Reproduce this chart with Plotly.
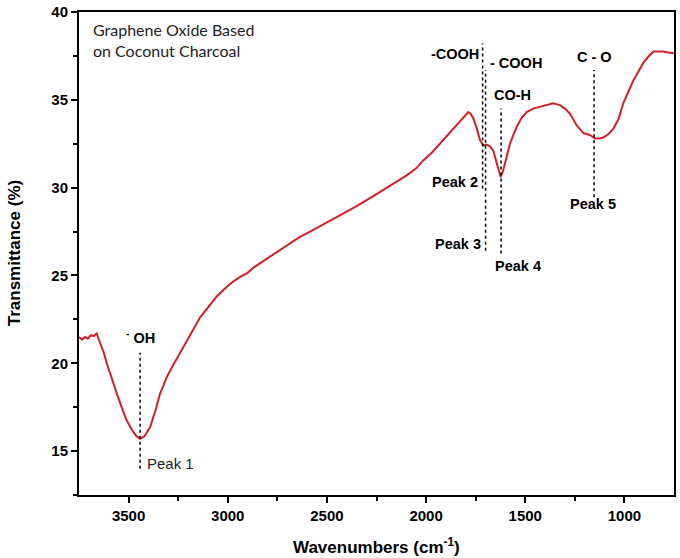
import plotly.graph_objects as go

wavenumber = [3750, 3735, 3720, 3705, 3690, 3675, 3661, 3644, 3625, 3610, 3585, 3560, 3535, 3510,
              3480, 3460, 3442, 3420, 3392, 3365, 3342, 3308, 3275, 3241, 3190, 3140, 3100, 3056,
              3010, 2973, 2940, 2925, 2900, 2870, 2837, 2780, 2721, 2680, 2636, 2585, 2535, 2485,
              2434, 2350, 2268, 2180, 2098, 2050, 2014, 1970, 1930, 1895, 1863, 1825, 1787, 1775,
              1762, 1745, 1728, 1711, 1695, 1678, 1661, 1644, 1632, 1624, 1612, 1602, 1590, 1577,
              1560, 1543, 1520, 1493, 1460, 1426, 1390, 1359, 1325, 1300, 1274, 1241, 1207, 1174,
              1148, 1125, 1106, 1080, 1056, 1030, 1006, 980, 955, 930, 905, 880, 854, 830, 804, 780, 750]
transmittance = [21.5, 21.35, 21.5, 21.4, 21.6, 21.55, 21.7, 21.2, 20.6, 20.0, 19.1, 18.3, 17.5, 16.75,
                 16.15, 15.85, 15.7, 15.85, 16.35, 17.3, 18.25, 19.2, 19.9, 20.55, 21.6, 22.6, 23.2, 23.8,
                 24.3, 24.65, 24.9, 25.0, 25.15, 25.45, 25.7, 26.15, 26.6, 26.9, 27.2, 27.5, 27.8, 28.1,
                 28.4, 28.95, 29.5, 30.1, 30.7, 31.1, 31.55, 32.0, 32.5, 32.9, 33.3, 33.8, 34.3, 34.2,
                 33.95, 33.4, 32.7, 32.4, 32.45, 32.35, 32.1, 31.4, 30.9, 30.6, 30.95, 31.4, 32.0, 32.5,
                 33.0, 33.45, 33.95, 34.3, 34.5, 34.6, 34.7, 34.8, 34.7, 34.5, 34.2, 33.55, 33.1, 33.0,
                 32.8, 32.8, 32.85, 33.05, 33.35, 33.9, 34.8, 35.5, 36.1, 36.6, 37.1, 37.45, 37.75, 37.75,
                 37.75, 37.7, 37.65]

peak_wn = [3442, 1715, 1700, 1622, 1153]
peak_top = [20.6, 38.2, 36.7, 34.5, 36.7]
peak_bottom = [14.0, 29.95, 26.4, 26.25, 29.45]
group_labels = ["<sup>-</sup> OH", "-COOH", "- COOH", "CO-H", "C - O"]
peak_labels = ["Peak 1", "Peak 2", "Peak 3", "Peak 4", "Peak 5"]

ARIAL = "Arial, Liberation Sans"

fig = go.Figure()
fig.add_trace(go.Scatter(x=wavenumber, y=transmittance, mode="lines",
                         line=dict(color="rgb(210,32,40)", width=2), showlegend=False))

for w, t, b in zip(peak_wn, peak_top, peak_bottom):
    fig.add_trace(go.Scatter(x=[w, w], y=[b, t], mode="lines",
                             line=dict(color="black", width=1.5, dash="dot"), showlegend=False))

bold = dict(family=ARIAL, size=14.5, color="black")
g_pos = [(3442, 21.5, "center"), (1724, 37.6, "right"), (1690, 37.1, "left"),
         (1565, 35.25, "center"), (1153, 37.45, "center")]
for (x, y, xa), txt in zip(g_pos, group_labels):
    fig.add_annotation(x=x, y=y, text="<b>%s</b>" % txt, showarrow=False, xanchor=xa,
                       yanchor="middle", font=bold)

p_pos = [(3418, 14.3, "left"), (1730, 30.3, "right"), (1712, 26.8, "right"),
         (1535, 25.55, "center"), (1160, 29.05, "center")]
for i, ((x, y, xa), txt) in enumerate(zip(p_pos, peak_labels)):
    if i == 0:
        f = dict(family=ARIAL, size=15, color="#222")
        t = txt
    else:
        f = bold
        t = "<b>%s</b>" % txt
    fig.add_annotation(x=x, y=y, text=t, showarrow=False, xanchor=xa, yanchor="middle", font=f)

fig.add_annotation(x=0.02, y=0.987, xref="paper", yref="paper", xanchor="left", yanchor="top",
                   align="left", showarrow=False,
                   text="Graphene Oxide Based<br>on Coconut Charcoal",
                   font=dict(family="Lato", size=16, color="#222"))

# axis titles as annotations
fig.add_annotation(x=0.5, y=-0.105, xref="paper", yref="paper", xanchor="center", yanchor="middle",
                   showarrow=False, text="<b>Wavenumbers (cm<sup>-1</sup>)</b>",
                   font=dict(family=ARIAL, size=17, color="black"))
fig.add_annotation(x=-0.108, y=0.5, xref="paper", yref="paper", xanchor="center", yanchor="middle",
                   showarrow=False, textangle=-90, text="<b>Transmittance (%)</b>",
                   font=dict(family=ARIAL, size=17, color="black"))

axis_common = dict(showline=True, linecolor="black", linewidth=2, mirror=True, showgrid=False,
                   zeroline=False, ticks="outside", ticklen=6, tickwidth=2, tickcolor="black",
                   automargin=False,
                   tickfont=dict(family=ARIAL, size=15, color="black", weight="bold"))

fig.update_xaxes(range=[3750, 750], tickvals=[3500, 3000, 2500, 2000, 1500, 1000],
                 minor=dict(tickvals=[3250, 2750, 2250, 1750, 1250], ticklen=4, tickwidth=2,
                            tickcolor="black", ticks="outside"),
                 **axis_common)
fig.update_yaxes(range=[12.5, 40], tickvals=[15, 20, 25, 30, 35, 40],
                 minor=dict(tickvals=[12.5, 17.5, 22.5, 27.5, 32.5, 37.5], ticklen=4, tickwidth=2,
                            tickcolor="black", ticks="outside"),
                 **axis_common)

fig.update_layout(width=680, height=558, margin=dict(l=79, r=6, t=12, b=63),
                  plot_bgcolor="white", paper_bgcolor="white")

fig.write_html("out.html", config={"displayModeBar": False},
               post_script="document.body.style.margin='0';")
